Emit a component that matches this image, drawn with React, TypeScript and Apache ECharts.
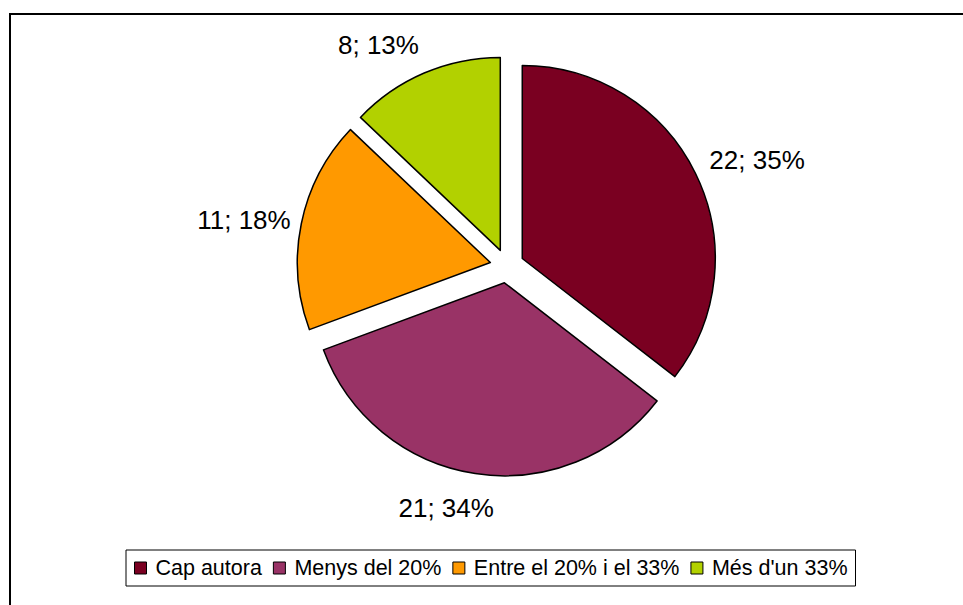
import React, { useEffect, useRef } from "react";
import * as echarts from "echarts";

const categories = ["Cap autora", "Menys del 20%", "Entre el 20% i el 33%", "Més d'un 33%"];
const values = [22, 21, 11, 8];
const colors = ["#7A0021", "#993366", "#FF9900", "#B2D100"];
// label line (hidden) lengths used to place each outside label
const labelLen = [31, 35, 20, 31];
const labelLen2 = [-19, -29, -14, -12];

export default function App() {
  const ref = useRef<HTMLDivElement>(null);
  useEffect(() => {
    if (!ref.current) return;
    const chart = echarts.init(ref.current, null, { renderer: "svg" });
    chart.setOption({
      animation: false,
      backgroundColor: "#ffffff",
      textStyle: { fontFamily: "Liberation Sans, Arial, sans-serif" },
      graphic: [
        {
          type: "rect",
          shape: { x: 10, y: 14, width: 1000, height: 700 },
          style: { fill: "none", stroke: "#000", lineWidth: 2 },
          silent: true,
        },
      ],
      legend: {
        show: true,
        left: 126,
        top: 550,
        orient: "horizontal",
        icon: "rect",
        itemWidth: 12,
        itemHeight: 12,
        itemGap: 11,
        padding: [7, 8, 7, 8],
        borderColor: "#000",
        borderWidth: 1,
        selectedMode: false,
        itemStyle: { borderColor: "#000", borderWidth: 1 },
        textStyle: {
          fontSize: 21.5,
          color: "#000",
          fontFamily: "Liberation Sans, Arial, sans-serif",
          padding: [0, 0, 0, 4],
        },
        data: categories,
      },
      series: [
        {
          type: "pie",
          center: [507, 266],
          radius: 193,
          startAngle: 90,
          clockwise: true,
          selectedMode: "multiple",
          selectedOffset: 17,
          avoidLabelOverlap: false,
          percentPrecision: 0,
          itemStyle: { borderColor: "#000", borderWidth: 1.5 },
          label: {
            show: true,
            position: "outside",
            formatter: "{c}; {d}%",
            fontSize: 26,
            color: "#000",
            fontFamily: "Liberation Sans, Arial, sans-serif",
          },
          labelLine: { show: false, length: 20, length2: 0 },
          emphasis: { disabled: true },
          data: categories.map((name, i) => ({
            name,
            value: values[i],
            selected: true,
            itemStyle: { color: colors[i] },
            labelLine: { show: false, length: labelLen[i], length2: labelLen2[i] },
          })),
        },
      ],
    });
    return () => chart.dispose();
  }, []);
  return (
    <div
      ref={ref}
      style={{ position: "fixed", left: 0, top: 0, width: 963, height: 605 }}
    />
  );
}
